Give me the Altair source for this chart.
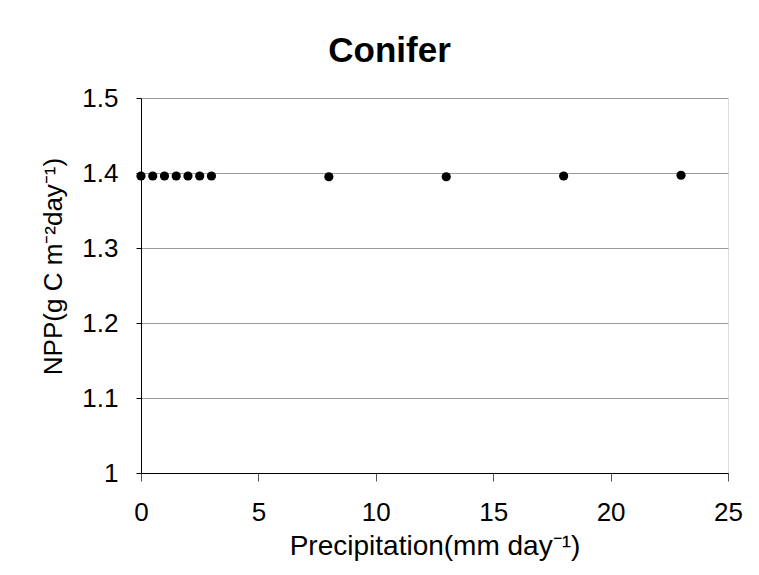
import altair as alt
import pandas as pd

precip = [0, 0.5, 1, 1.5, 2, 2.5, 3, 8, 13, 18, 23]
npp = [1.396, 1.396, 1.396, 1.396, 1.396, 1.396, 1.396, 1.395, 1.395, 1.396, 1.397]
x_ticks = [0, 5, 10, 15, 20, 25]
y_ticks = [1.0, 1.1, 1.2, 1.3, 1.4, 1.5]

df = pd.DataFrame({"precip": precip, "npp": npp})

FONT = "Liberation Sans"

chart = alt.Chart(df).mark_point(filled=True, shape="circle", size=85, color="black", opacity=1).encode(
    x=alt.X("precip:Q",
            scale=alt.Scale(domain=[0, 25], nice=False, zero=False),
            axis=alt.Axis(values=x_ticks, title="Precipitation(mm day⁻¹)", grid=False,
                          labelFlush=False,
                          domainColor="black", tickColor="#555", tickSize=8,
                          labelFontSize=26, labelPadding=18, labelFont=FONT, labelColor="black",
                          titleFontSize=28, titleFont=FONT, titleFontWeight="normal", titleColor="black",
                          titleY=81, titleBaseline="alphabetic")),
    y=alt.Y("npp:Q",
            scale=alt.Scale(domain=[1.0, 1.5], nice=False, zero=False),
            axis=alt.Axis(values=y_ticks, title="NPP(g C m⁻²day⁻¹)",
                          labelExpr="datum.value == 1 ? '1' : format(datum.value, '.1f')",
                          labelFlush=False,
                          grid=True, gridColor="#9a9a9a", gridWidth=1,
                          domainColor="black", tickColor="black", tickSize=5,
                          labelFontSize=26, labelPadding=18, labelFont=FONT, labelColor="black",
                          titleFontSize=26, titleFont=FONT, titleFontWeight="normal", titleColor="black",
                          titleX=-80, titleY=168, titleBaseline="alphabetic")),
).properties(
    width=587, height=375,
    title=alt.TitleParams("Conifer", fontSize=35, font=FONT, fontWeight="bold", color="black",
                          offset=16, dx=-45),
    autosize=alt.AutoSizeParams(type="none"),
    padding={"left": 133, "top": 90, "right": 23, "bottom": 94},
).configure_view(stroke="#333", strokeWidth=1.5).configure(background="white")

chart.save("out.html", embed_options={"renderer": "svg", "actions": False})
